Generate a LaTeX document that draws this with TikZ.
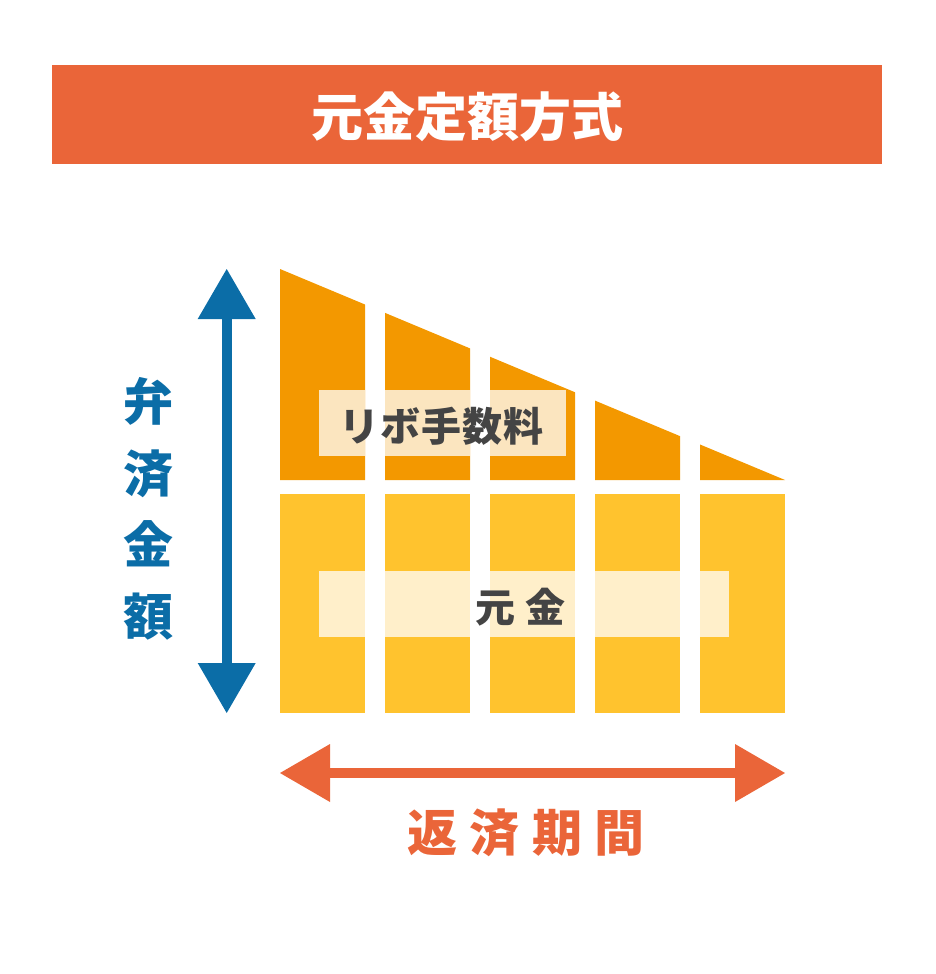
\documentclass[tikz,border=0pt]{standalone}
\usepackage{fontspec}
\newfontfamily\jp{Noto Sans CJK JP}
\definecolor{titlered}{HTML}{EA6539}
\definecolor{feeorange}{HTML}{F39800}
\definecolor{prinyellow}{HTML}{FFC32E}
\definecolor{axisblue}{HTML}{0B6DA7}
\definecolor{txtgray}{HTML}{444444}
\begin{document}
\begin{tikzpicture}[x=1pt,y=-1pt,
  fee/.style={fill=feeorange,draw=none},
  prin/.style={fill=prinyellow,draw=none},
  veil/.style={fill=white,fill opacity=0.75,draw=none},
  blueshape/.style={fill=axisblue,draw=none},
  redshape/.style={fill=titlered,draw=none}]
\useasboundingbox (0,0) rectangle (935,974);
% title
\node[fill=titlered,minimum width=830pt,minimum height=99pt,inner sep=0pt,anchor=north west] (title) at (52,65) {};
\node[text=white,font={\jp\bfseries\fontsize{52}{52}\selectfont},inner sep=0pt] (titletext) at (467.5,117) {元金定額方式};
% bars
\foreach \i in {0,...,4}{
  \pgfmathsetmacro{\xa}{280+105*\i}
  \pgfmathsetmacro{\xb}{\xa+85}
  \pgfmathsetmacro{\ya}{269+(\xa-280)*0.417822}
  \pgfmathsetmacro{\yb}{269+(\xb-280)*0.417822}
  \fill[fee] (\xa,\ya) -- (\xb,\yb) -- (\xb,480) -- (\xa,480) -- cycle;
  \fill[prin] (\xa,494) rectangle (\xb,713);
}
% veils (clipped to bars)
\begin{scope}
  \clip (280,0) rectangle (365,974) (385,0) rectangle (470,974) (490,0) rectangle (575,974) (595,0) rectangle (680,974) (700,0) rectangle (785,974);
  \fill[veil] (319,390) rectangle (566,456);
  \fill[veil] (319,571) rectangle (729,637);
\end{scope}
\node[text=txtgray,font={\jp\bfseries\fontsize{40}{40}\selectfont},inner sep=0pt] (feelabel) at (441,426) {リ\hspace{1pt}ボ\hspace{1pt}手\hspace{1pt}数\hspace{1pt}料};
\node[text=txtgray,font={\jp\bfseries\fontsize{40}{40}\selectfont},inner sep=0pt] (prinlabel) at (520.5,607) {元\hspace{10pt}金};
% vertical arrow
\coordinate (vtop) at (226.7,269);
\coordinate (vbot) at (226.7,713);
\fill[blueshape] (221.7,318) rectangle (231.7,665);
\fill[blueshape] (vtop) -- (255.7,319) -- (197.7,319) -- cycle;
\fill[blueshape] (vbot) -- (255.7,663) -- (197.7,663) -- cycle;
\node[text=axisblue,font={\jp\bfseries\fontsize{50}{71.5}\selectfont},align=center,inner sep=0pt] (vlabel) at (148.5,509) {弁\\済\\金\\額};
% horizontal arrow
\coordinate (hleft) at (280,773);
\coordinate (hright) at (785,773);
\fill[redshape] (328,768) rectangle (737,778);
\fill[redshape] (hleft) -- (330,744) -- (330,802) -- cycle;
\fill[redshape] (hright) -- (735,744) -- (735,802) -- cycle;
\node[text=titlered,font={\jp\bfseries\fontsize{50}{50}\selectfont},inner sep=0pt] (hlabel) at (526,832.5) {返\hspace{12.6pt}済\hspace{12.6pt}期\hspace{12.6pt}間};
\end{tikzpicture}
\end{document}
